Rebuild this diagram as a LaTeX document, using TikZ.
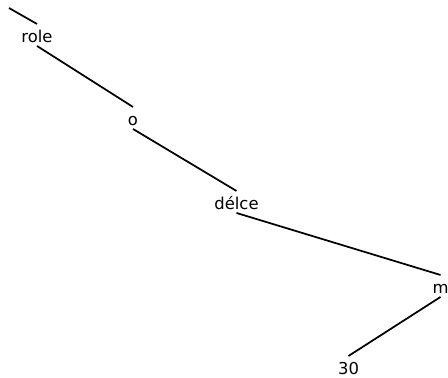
\documentclass[tikz,border=0pt]{standalone}
\usepackage{fontspec}
\setmainfont{DejaVu Sans}
\begin{document}
\begin{tikzpicture}[x=0.75pt,y=-0.75pt,
  lbl/.style={anchor=base,inner sep=0pt,outer sep=0pt,text height=13.9pt,text depth=2.6pt,font=\fontsize{12.3pt}{14pt}\selectfont},
  edge/.style={draw=black,line width=1.3pt}]
\clip (0,0) rectangle (448,377);
\useasboundingbox (0,0) rectangle (448,377);
\coordinate (top) at (9,8);
\node[lbl] (role) at (37,42.5) {role};
\node[lbl] (o) at (133,125.5) {o};
\node[lbl] (delce) at (236.5,209.5) {délce};
\node[lbl] (m) at (440.5,293.5) {m};
\node[lbl] (n30) at (348.5,374.5) {30};
\draw[edge] (top) -- (role.north);
\draw[edge] (role.south) -- (o.north);
\draw[edge] (o.south) -- (delce.north);
\draw[edge] (delce.south) -- (m.north);
\draw[edge] (m.south) -- (n30.north);
\end{tikzpicture}
\end{document}
